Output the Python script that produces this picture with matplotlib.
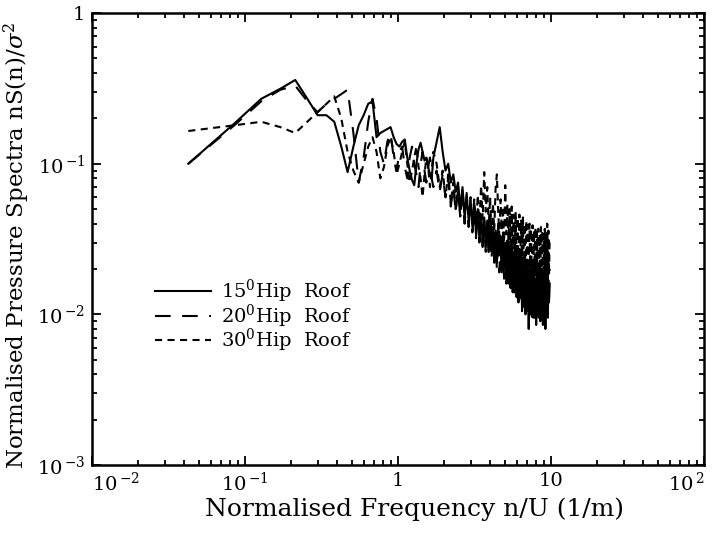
import numpy as np
import matplotlib
matplotlib.use("Agg")
import matplotlib.pyplot as plt
from matplotlib.ticker import FixedLocator, FixedFormatter, LogLocator, NullFormatter

plt.rcParams['font.family'] = ['DejaVu Serif']
plt.rcParams['mathtext.fontset'] = 'dejavuserif'

# frequency grid (uniform spectral bins, 1/m)
df = 0.0426
bins_low = list(range(1, 41))
bins_high = list(range(42, 231, 2))

# 15 deg hip roof (solid)
s15_low = [0.10, 0.185, 0.27, 0.315, 0.36, 0.27, 0.21, 0.21, 0.19, 0.13,
           0.088, 0.13, 0.18, 0.21, 0.25, 0.26, 0.15, 0.16, 0.165, 0.17,
           0.175, 0.15, 0.135, 0.13, 0.14, 0.145, 0.11, 0.09, 0.078, 0.072,
           0.10, 0.125, 0.138, 0.12, 0.105, 0.11, 0.095, 0.085, 0.079, 0.11]
s15_high = [0.14, 0.175, 0.12, 0.09, 0.10, 0.075, 0.085, 0.065, 0.075, 0.05,
            0.07, 0.045, 0.064, 0.042, 0.058, 0.038, 0.055, 0.034, 0.05, 0.032,
            0.046, 0.029, 0.044, 0.028, 0.042, 0.026, 0.045, 0.027, 0.038, 0.023,
            0.036, 0.022, 0.04, 0.025, 0.033, 0.019, 0.035, 0.021, 0.03, 0.017,
            0.031, 0.018, 0.028, 0.015, 0.03, 0.016, 0.026, 0.014, 0.028, 0.015,
            0.024, 0.012, 0.025, 0.014, 0.022, 0.0105, 0.023, 0.013, 0.021, 0.010,
            0.022, 0.012, 0.02, 0.008, 0.019, 0.011, 0.021, 0.0105, 0.018, 0.0095,
            0.02, 0.011, 0.017, 0.0085, 0.018, 0.0105, 0.02, 0.0095, 0.016, 0.009,
            0.018, 0.0105, 0.017, 0.0085, 0.019, 0.011, 0.016, 0.008, 0.017, 0.011,
            0.018, 0.0095, 0.016, 0.012, 0.016]

# 20 deg hip roof (long dash)
s20_low = [0.10, 0.18, 0.26, 0.31, 0.33, 0.26, 0.22, 0.25, 0.27, 0.29,
           0.31, 0.16, 0.075, 0.11, 0.19, 0.27, 0.20, 0.12, 0.10, 0.14,
           0.16, 0.11, 0.09, 0.12, 0.13, 0.095, 0.08, 0.11, 0.13, 0.10,
           0.085, 0.07, 0.10, 0.12, 0.09, 0.075, 0.095, 0.11, 0.08, 0.07]
s20_high = [0.09, 0.065, 0.085, 0.06, 0.08, 0.052, 0.07, 0.048, 0.066, 0.044,
            0.06, 0.04, 0.058, 0.038, 0.054, 0.035, 0.05, 0.032, 0.048, 0.03,
            0.045, 0.028, 0.042, 0.026, 0.04, 0.025, 0.038, 0.023, 0.036, 0.022,
            0.035, 0.02, 0.033, 0.019, 0.032, 0.018, 0.031, 0.017, 0.03, 0.016,
            0.029, 0.016, 0.028, 0.015, 0.027, 0.014, 0.026, 0.014, 0.025, 0.013,
            0.026, 0.013, 0.024, 0.012, 0.025, 0.012, 0.023, 0.011, 0.024, 0.011,
            0.023, 0.0105, 0.022, 0.011, 0.023, 0.010, 0.021, 0.0095, 0.022, 0.0105,
            0.021, 0.0095, 0.022, 0.0105, 0.02, 0.009, 0.021, 0.0105, 0.02, 0.0095,
            0.022, 0.0105, 0.02, 0.01, 0.021, 0.0095, 0.02, 0.0105, 0.022, 0.011,
            0.021, 0.0105, 0.022, 0.012, 0.02]

# 30 deg hip roof (short dash)
s30_low = [0.165, 0.18, 0.19, 0.175, 0.16, 0.19, 0.22, 0.25, 0.28, 0.20,
           0.12, 0.09, 0.075, 0.10, 0.13, 0.15, 0.12, 0.08, 0.095, 0.13,
           0.15, 0.12, 0.085, 0.10, 0.12, 0.14, 0.10, 0.075, 0.09, 0.11,
           0.13, 0.095, 0.08, 0.06, 0.085, 0.11, 0.095, 0.07, 0.09, 0.12]
s30_high = [0.10, 0.07, 0.09, 0.06, 0.085, 0.055, 0.075, 0.05, 0.07, 0.045,
            0.068, 0.043, 0.062, 0.04, 0.06, 0.04, 0.058, 0.036, 0.062, 0.038,
            0.072, 0.043, 0.088, 0.048, 0.07, 0.038, 0.06, 0.033, 0.055, 0.036,
            0.068, 0.085, 0.05, 0.033, 0.058, 0.036, 0.052, 0.03, 0.072, 0.034,
            0.054, 0.028, 0.05, 0.026, 0.052, 0.027, 0.046, 0.025, 0.048, 0.024,
            0.044, 0.022, 0.046, 0.023, 0.042, 0.02, 0.044, 0.022, 0.04, 0.019,
            0.042, 0.02, 0.039, 0.018, 0.04, 0.019, 0.037, 0.017, 0.039, 0.018,
            0.036, 0.016, 0.038, 0.018, 0.035, 0.015, 0.037, 0.017, 0.034, 0.016,
            0.038, 0.015, 0.036, 0.017, 0.034, 0.014, 0.037, 0.016, 0.035, 0.015,
            0.04, 0.016, 0.036, 0.018, 0.03]

labels = [r'15$^{\mathregular{0}}$Hip  Roof',
          r'20$^{\mathregular{0}}$Hip  Roof',
          r'30$^{\mathregular{0}}$Hip  Roof']

x_ticks = [0.01, 0.1, 1, 10, 100]
x_ticklabels = [r'$\mathregular{10}^{\,\mathregular{-2}}$', r'$\mathregular{10}^{\,\mathregular{-1}}$',
                '1', '10', r'$\mathregular{10}^{\,\mathregular{2}}$']
y_ticks = [0.001, 0.01, 0.1, 1]
y_ticklabels = [r'$\mathregular{10}^{\,\mathregular{-3}}$', r'$\mathregular{10}^{\,\mathregular{-2}}$',
                r'$\mathregular{10}^{\,\mathregular{-1}}$', '1']

freq = df * np.array(bins_low + bins_high, dtype=float)
series = [s15_low + s15_high, s20_low + s20_high, s30_low + s30_high]
styles = [dict(linestyle='-'),
          dict(linestyle=(0, (7.5, 5.5))),
          dict(linestyle=(0, (3.4, 2.6)))]

fig = plt.figure(figsize=(7.19, 5.36), dpi=100)
ax = fig.add_axes([0.128, 0.1325, 0.851, 0.843])

for vals, st, lab in zip(series, styles, labels):
    ax.plot(freq, vals, color='black', linewidth=1.5, label=lab, **st)

ax.set_xscale('log')
ax.set_yscale('log')
ax.set_xlim(0.01, 100)
ax.set_ylim(0.001, 1)

ax.xaxis.set_major_locator(FixedLocator(x_ticks))
ax.xaxis.set_major_formatter(FixedFormatter(x_ticklabels))
ax.yaxis.set_major_locator(FixedLocator(y_ticks))
ax.yaxis.set_major_formatter(FixedFormatter(y_ticklabels))
ax.xaxis.set_minor_locator(LogLocator(base=10, subs=np.arange(2, 10)))
ax.yaxis.set_minor_locator(LogLocator(base=10, subs=np.arange(2, 10)))
ax.xaxis.set_minor_formatter(NullFormatter())
ax.yaxis.set_minor_formatter(NullFormatter())

ax.tick_params(which='both', direction='in', top=True, right=True, width=1.3)
ax.tick_params(which='major', length=6.5, labelsize=14, pad=5)
ax.tick_params(which='minor', length=3.5)
for sp in ax.spines.values():
    sp.set_linewidth(1.8)

fig.canvas.draw()
xt = ax.get_xticklabels()
xt[0].set_ha('left')
xt[-1].set_ha('right')

ax.set_xlabel('Normalised Frequency n/U (1/m)', fontsize=18)
ax.xaxis.set_label_coords(0.527, -0.072)
ax.set_ylabel(r'Normalised Pressure Spectra nS(n)/$\sigma^{\mathregular{2}}$', fontsize=16.5)
ax.yaxis.set_label_coords(-0.098, 0.485)

leg = ax.legend(loc='upper left', bbox_to_anchor=(0.103, 0.415), frameon=False,
                fontsize=14, handlelength=2.9, labelspacing=-0.12, handletextpad=0.5,
                borderpad=0.0, borderaxespad=0.0)

fig.savefig('out.png', dpi=100)
